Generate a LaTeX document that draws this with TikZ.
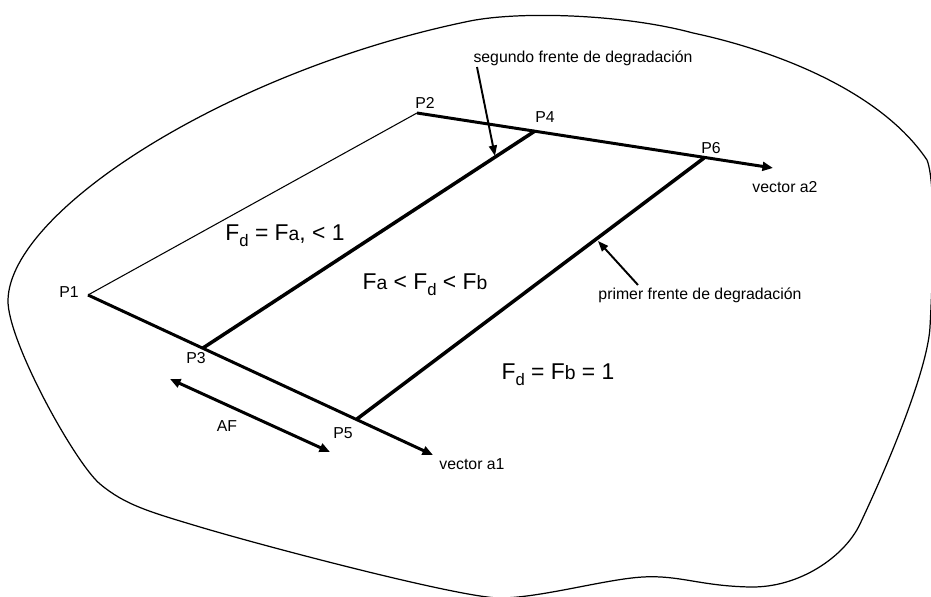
\documentclass[tikz,border=0pt]{standalone}
\usepackage{fontspec}
\setmainfont{Liberation Sans}
\usetikzlibrary{arrows.meta,positioning}

\newcommand{\Fd}{F\raisebox{-3.5pt}{\fontsize{9.5}{9.5}\selectfont d}}
\newcommand{\Fsm}[1]{F{\fontsize{11}{11}\selectfont #1}}

\begin{document}
\begin{tikzpicture}[
    x=0.02cm, y=-0.02cm,
    point label/.style={
        font=\fontsize{9}{10}\selectfont,
        inner sep=1pt
    },
    region label/.style={
        font=\fontsize{13}{15}\selectfont,
        inner sep=1pt
    },
    vector line/.style={line width=1.7pt, -{Triangle[length=6pt,width=5pt]}},
    front line/.style={line width=2pt},
    pointer/.style={line width=1.1pt, -{Triangle[length=6pt,width=4.5pt]}}
]
\useasboundingbox (0,0) rectangle (931,597);

% Outline of the domain
\draw[line width=0.7pt] (8,300)
    .. controls (10,210) and (230,70) .. (470,21)
    .. controls (520,11) and (623,14) .. (693,33)
    .. controls (773,50) and (880,90) .. (927,160)
    .. controls (937,185) and (932,290) .. (930,327)
    .. controls (928,365) and (895,450) .. (860,524)
    .. controls (845,556) and (800,588) .. (750,587)
    .. controls (700,586) and (680,575) .. (643,577)
    .. controls (606,579) and (540,598) .. (500,598)
    .. controls (460,598) and (260,545) .. (200,527)
    .. controls (150,512) and (125,505) .. (100,484)
    .. controls (75,463) and (7,340) .. cycle;

% Points
\coordinate (p1) at (88,295);
\coordinate (p2) at (417,113);
\coordinate (p3) at (203,348);
\coordinate (p4) at (535,131);
\coordinate (p5) at (357,419);
\coordinate (p6) at (704,158);
\coordinate (a1) at (433,455);
\coordinate (a2) at (773,168);

% Point labels
\node[point label] (lp1) at (69,292) {P1};
\node[point label] (lp2) at (425,103) {P2};
\node[point label] (lp3) at (196,358) {P3};
\node[point label] (lp4) at (545,117) {P4};
\node[point label] (lp5) at (343,433) {P5};
\node[point label] (lp6) at (711,148) {P6};
\node[point label] (la1) at (472,464) {vector a1};
\node[point label] (la2) at (785,187) {vector a2};

% Edges and vectors
\draw[line width=0.6pt] (p1) -- (p2);
\draw[vector line] (p1) -- (a1);
\draw[vector line] (p2) -- (a2);

% Degradation fronts
\draw[front line] (p3) -- (p4);
\draw[front line] (p5) -- (p6);

% Front width
\coordinate (af1) at (170,379);
\coordinate (af2) at (330,452);
\draw[line width=1.7pt, {Triangle[length=6pt,width=5pt]}-{Triangle[length=6pt,width=5pt]}] (af1) -- (af2);
\node[point label] (laf) at (227,426) {AF};

% Notes with pointers
\node[point label] (seg) at (583,58) {segundo frente de degradación};
\coordinate (segtail) at (477,67);
\coordinate (seghead) at (495,156);
\draw[pointer] (segtail) -- (seghead);

\node[point label] (pri) at (700,295) {primer frente de degradación};
\coordinate (pritail) at (638,285);
\coordinate (prihead) at (598,241);
\draw[pointer] (pritail) -- (prihead);

% Region values
\node[region label] (r1) at (285,236) {\Fd{} = \Fsm{a}, < 1};
\node[region label] (r2) at (425,285) {\Fsm{a} < \Fd{} < \Fsm{b}};
\node[region label] (r3) at (558,375) {\Fd{} = \Fsm{b} = 1};

\end{tikzpicture}
\end{document}
